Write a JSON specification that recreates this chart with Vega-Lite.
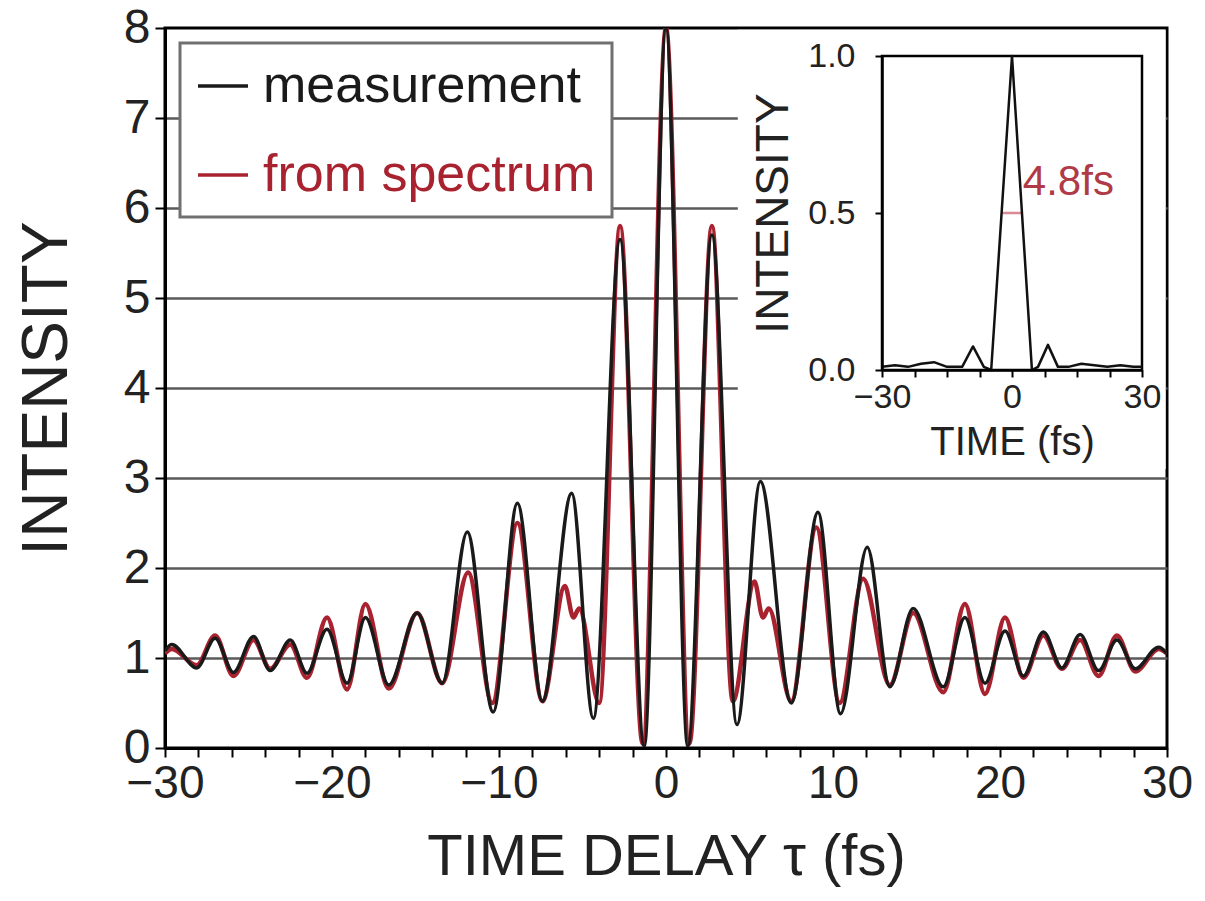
{
  "$schema": "https://vega.github.io/schema/vega-lite/v6.json",
  "width": 1002,
  "height": 720,
  "autosize": {"type": "none"},
  "padding": {"left": 165, "top": 28, "right": 38, "bottom": 153},
  "background": "white",
  "config": {
    "view": {"stroke": "black", "strokeWidth": 3},
    "font": "Liberation Sans",
    "axis": {"domainColor": "black", "tickColor": "black", "labelColor": "#222", "titleColor": "#222", "titleFontWeight": "normal", "labelFont": "Liberation Sans", "titleFont": "Liberation Sans", "labelOverlap": false, "labelFlush": false},
    "legend": {"labelFont": "Liberation Sans"}
  },
  "datasets": {
    "box": [{"x0": 4.3, "x1": 29.92, "y0": 3.1, "y1": 7.98}],
    "main": [
      {"t": -30, "v": 1.08, "series": "measurement"},
      {"t": -29.6, "v": 1.15, "series": "measurement"},
      {"t": -28.1, "v": 0.89, "series": "measurement"},
      {"t": -27.0, "v": 1.22, "series": "measurement"},
      {"t": -25.9, "v": 0.84, "series": "measurement"},
      {"t": -24.7, "v": 1.24, "series": "measurement"},
      {"t": -23.7, "v": 0.86, "series": "measurement"},
      {"t": -22.5, "v": 1.2, "series": "measurement"},
      {"t": -21.5, "v": 0.83, "series": "measurement"},
      {"t": -20.3, "v": 1.32, "series": "measurement"},
      {"t": -19.1, "v": 0.72, "series": "measurement"},
      {"t": -18.0, "v": 1.45, "series": "measurement"},
      {"t": -16.6, "v": 0.7, "series": "measurement"},
      {"t": -14.9, "v": 1.5, "series": "measurement"},
      {"t": -13.4, "v": 0.72, "series": "measurement"},
      {"t": -11.9, "v": 2.4, "series": "measurement"},
      {"t": -10.35, "v": 0.4, "series": "measurement"},
      {"t": -8.9, "v": 2.72, "series": "measurement"},
      {"t": -7.4, "v": 0.52, "series": "measurement"},
      {"t": -5.65, "v": 2.83, "series": "measurement"},
      {"t": -4.35, "v": 0.33, "series": "measurement"},
      {"t": -2.75, "v": 5.65, "series": "measurement"},
      {"t": -1.3, "v": 0.02, "series": "measurement"},
      {"t": 0, "v": 8.0, "series": "measurement"},
      {"t": 1.3, "v": 0.02, "series": "measurement"},
      {"t": 2.75, "v": 5.7, "series": "measurement"},
      {"t": 4.25, "v": 0.26, "series": "measurement"},
      {"t": 5.65, "v": 2.96, "series": "measurement"},
      {"t": 7.5, "v": 0.5, "series": "measurement"},
      {"t": 9.1, "v": 2.62, "series": "measurement"},
      {"t": 10.45, "v": 0.38, "series": "measurement"},
      {"t": 12.05, "v": 2.23, "series": "measurement"},
      {"t": 13.4, "v": 0.68, "series": "measurement"},
      {"t": 14.8, "v": 1.55, "series": "measurement"},
      {"t": 16.6, "v": 0.68, "series": "measurement"},
      {"t": 17.9, "v": 1.45, "series": "measurement"},
      {"t": 19.1, "v": 0.72, "series": "measurement"},
      {"t": 20.3, "v": 1.3, "series": "measurement"},
      {"t": 21.4, "v": 0.8, "series": "measurement"},
      {"t": 22.6, "v": 1.29, "series": "measurement"},
      {"t": 23.7, "v": 0.89, "series": "measurement"},
      {"t": 24.8, "v": 1.26, "series": "measurement"},
      {"t": 25.9, "v": 0.86, "series": "measurement"},
      {"t": 27.0, "v": 1.2, "series": "measurement"},
      {"t": 28.1, "v": 0.88, "series": "measurement"},
      {"t": 29.5, "v": 1.12, "series": "measurement"},
      {"t": 30, "v": 1.05, "series": "measurement"},
      {"t": -30, "v": 1.05, "series": "from spectrum"},
      {"t": -29.6, "v": 1.1, "series": "from spectrum"},
      {"t": -28.1, "v": 0.92, "series": "from spectrum"},
      {"t": -27.0, "v": 1.25, "series": "from spectrum"},
      {"t": -25.9, "v": 0.8, "series": "from spectrum"},
      {"t": -24.7, "v": 1.2, "series": "from spectrum"},
      {"t": -23.7, "v": 0.88, "series": "from spectrum"},
      {"t": -22.5, "v": 1.15, "series": "from spectrum"},
      {"t": -21.5, "v": 0.78, "series": "from spectrum"},
      {"t": -20.3, "v": 1.45, "series": "from spectrum"},
      {"t": -19.1, "v": 0.65, "series": "from spectrum"},
      {"t": -18.0, "v": 1.6, "series": "from spectrum"},
      {"t": -16.6, "v": 0.66, "series": "from spectrum"},
      {"t": -14.9, "v": 1.5, "series": "from spectrum"},
      {"t": -13.4, "v": 0.72, "series": "from spectrum"},
      {"t": -11.85, "v": 1.95, "series": "from spectrum"},
      {"t": -10.4, "v": 0.5, "series": "from spectrum"},
      {"t": -8.9, "v": 2.5, "series": "from spectrum"},
      {"t": -7.4, "v": 0.52, "series": "from spectrum"},
      {"t": -6.05, "v": 1.8, "series": "from spectrum"},
      {"t": -5.55, "v": 1.45, "series": "from spectrum"},
      {"t": -5.2, "v": 1.55, "series": "from spectrum"},
      {"t": -4.0, "v": 0.5, "series": "from spectrum"},
      {"t": -2.75, "v": 5.8, "series": "from spectrum"},
      {"t": -1.4, "v": 0.05, "series": "from spectrum"},
      {"t": 0, "v": 8.0, "series": "from spectrum"},
      {"t": 1.4, "v": 0.05, "series": "from spectrum"},
      {"t": 2.75, "v": 5.8, "series": "from spectrum"},
      {"t": 4.0, "v": 0.52, "series": "from spectrum"},
      {"t": 5.3, "v": 1.85, "series": "from spectrum"},
      {"t": 5.8, "v": 1.45, "series": "from spectrum"},
      {"t": 6.15, "v": 1.55, "series": "from spectrum"},
      {"t": 7.5, "v": 0.52, "series": "from spectrum"},
      {"t": 9.0, "v": 2.45, "series": "from spectrum"},
      {"t": 10.4, "v": 0.5, "series": "from spectrum"},
      {"t": 11.8, "v": 1.88, "series": "from spectrum"},
      {"t": 13.4, "v": 0.7, "series": "from spectrum"},
      {"t": 14.8, "v": 1.5, "series": "from spectrum"},
      {"t": 16.6, "v": 0.62, "series": "from spectrum"},
      {"t": 17.9, "v": 1.6, "series": "from spectrum"},
      {"t": 19.1, "v": 0.6, "series": "from spectrum"},
      {"t": 20.3, "v": 1.45, "series": "from spectrum"},
      {"t": 21.4, "v": 0.78, "series": "from spectrum"},
      {"t": 22.6, "v": 1.25, "series": "from spectrum"},
      {"t": 23.7, "v": 0.88, "series": "from spectrum"},
      {"t": 24.8, "v": 1.2, "series": "from spectrum"},
      {"t": 25.9, "v": 0.8, "series": "from spectrum"},
      {"t": 27.0, "v": 1.25, "series": "from spectrum"},
      {"t": 28.1, "v": 0.85, "series": "from spectrum"},
      {"t": 29.5, "v": 1.1, "series": "from spectrum"},
      {"t": 30, "v": 1.05, "series": "from spectrum"}
    ],
    "frame": [{"a": -30, "b": 30, "c": 0, "d": 1}],
    "inset": [
      {"t": -30, "v": 0.01}, {"t": -27, "v": 0.015}, {"t": -24, "v": 0.01}, {"t": -21, "v": 0.02},
      {"t": -18, "v": 0.025}, {"t": -15, "v": 0.01}, {"t": -11.5, "v": 0.01}, {"t": -9, "v": 0.075},
      {"t": -6.5, "v": 0.01}, {"t": -4.8, "v": 0.0}, {"t": 0, "v": 1.0}, {"t": 4.6, "v": 0.0},
      {"t": 6, "v": 0.01}, {"t": 8.3, "v": 0.08}, {"t": 10.6, "v": 0.01}, {"t": 13, "v": 0.01},
      {"t": 16, "v": 0.02}, {"t": 19, "v": 0.015}, {"t": 22, "v": 0.01}, {"t": 25, "v": 0.015},
      {"t": 28, "v": 0.01}, {"t": 30, "v": 0.01}
    ],
    "fwhm": [{"t1": -2.4, "t2": 2.4, "v": 0.5}],
    "note": [{"t": 2.5, "v": 0.6, "label": "4.8fs"}]
  },
  "layer": [
    {
      "layer": [
        {
          "data": {"name": "box"},
          "mark": {"type": "rect", "fill": "white", "stroke": null},
          "encoding": {
            "x": {"field": "x0", "type": "quantitative",
              "scale": {"domain": [-30, 30], "nice": false},
              "axis": {"title": "TIME DELAY τ (fs)", "format": "d", "values": [-30, -20, -10, 0, 10, 20, 30],
                "labelFontSize": 46, "titleFontSize": 58,
                "tickSize": 9, "tickWidth": 2, "domainWidth": 3, "labelPadding": 4, "titlePadding": 22,
                "grid": false, "labelOverlap": false, "labelFlush": false, "zindex": 1}},
            "x2": {"field": "x1"},
            "y": {"field": "y0", "type": "quantitative",
              "scale": {"domain": [0, 8], "nice": false},
              "axis": {"title": "INTENSITY", "format": "d", "values": [0,1,2,3,4,5,6,7,8], "grid": true,
                "gridColor": {"condition": {"test": "datum.value === 0 || datum.value === 8", "value": "transparent"}, "value": "#5a5a5a"},
                "gridWidth": 2.5, "labelFontSize": 48, "titleFontSize": 64, "tickSize": 10, "tickWidth": 2,
                "domainWidth": 3, "labelPadding": 5, "titlePadding": 44, "labelOverlap": false}},
            "y2": {"field": "y1"}
          }
        },
        {
          "data": {"name": "main"},
          "transform": [{"filter": "datum.series === 'from spectrum'"}],
          "mark": {"type": "line", "interpolate": "monotone", "strokeWidth": 4.5, "strokeJoin": "round", "clip": true},
          "encoding": {
            "x": {"field": "t", "type": "quantitative", "title": "TIME DELAY τ (fs)"},
            "y": {"field": "v", "type": "quantitative", "title": "INTENSITY"},
            "color": {"field": "series", "type": "nominal",
              "scale": {"domain": ["measurement", "from spectrum"], "range": ["#1a1a1a", "#a8232f"]},
              "legend": {"title": null, "orient": "none", "legendX": 15, "legendY": 15, "symbolType": "stroke", "symbolSize": 2500,
                "symbolStrokeWidth": 3.5, "labelFontSize": 52, "labelOffset": 13, "rowPadding": 36, "padding": 16,
                "strokeColor": "#707070", "fillColor": "white", "labelLimit": 0, "cornerRadius": 0,
                "encode": {"legend": {"update": {"strokeWidth": {"value": 3}}},
                  "labels": {"update": {"fill": {"signal": "datum.label === 'from spectrum' ? '#a8232f' : '#1a1a1a'"}}}}}
            }
          }
        },
        {
          "data": {"name": "main"},
          "transform": [{"filter": "datum.series === 'measurement'"}],
          "mark": {"type": "line", "interpolate": "monotone", "strokeWidth": 3.5, "strokeJoin": "round", "clip": true},
          "encoding": {
            "x": {"field": "t", "type": "quantitative", "title": "TIME DELAY τ (fs)"},
            "y": {"field": "v", "type": "quantitative", "title": "INTENSITY"},
            "color": {"field": "series", "type": "nominal"}
          }
        }
      ]
    },
    {
      "layer": [
        {
          "data": {"name": "box"},
          "mark": {"type": "point", "opacity": 0},
          "encoding": {
            "x": {"field": "x0", "type": "quantitative",
              "scale": {"domain": [-30, 30], "nice": false},
              "axis": {"orient": "bottom", "title": null, "values": [-28,-26,-24,-22,-18,-16,-14,-12,-8,-6,-4,-2,2,4,6,8,12,14,16,18,22,24,26,28],
                "labels": false, "domain": false, "tickSize": 9, "tickWidth": 2, "grid": false, "zindex": 1}}
          }
        }
      ]
    },
    {
      "layer": [
        {
          "data": {"name": "frame"},
          "mark": {"type": "rect", "fill": null, "stroke": "black", "strokeWidth": 2.5},
          "encoding": {
            "x": {"field": "a", "type": "quantitative",
              "scale": {"domain": [-30, 30], "range": [717, 977], "nice": false},
              "axis": {"orient": "bottom", "offset": -378, "title": "TIME (fs)",
                "values": [-30, -22.5, -15, -7.5, 0, 7.5, 15, 22.5, 30],
                "labelExpr": "datum.value === -30 || datum.value === 0 || datum.value === 30 ? datum.label : ''",
                "labelFontSize": 34, "titleFontSize": 40, "tickSize": 7, "tickWidth": 2, "domainWidth": 2.5,
                "grid": false, "labelOverlap": false, "labelFlush": false, "labelPadding": 3, "titlePadding": 8, "zindex": 2}},
            "x2": {"field": "b"},
            "y": {"field": "c", "type": "quantitative",
              "scale": {"domain": [0, 1], "range": [342, 28], "nice": false, "zero": false},
              "axis": {"orient": "left", "offset": -717, "title": "INTENSITY", "values": [0, 0.5, 1], "format": ".1f",
                "labelFontSize": 34, "titleFontSize": 46, "tickSize": 7, "tickWidth": 2, "domainWidth": 2.5,
                "grid": false, "labelPadding": 20, "titlePadding": 10, "labelOverlap": false, "zindex": 2}},
            "y2": {"field": "d"}
          }
        },
        {
          "data": {"name": "fwhm"},
          "mark": {"type": "rule", "color": "#d98a95", "strokeWidth": 2.5},
          "encoding": {
            "x": {"field": "t1", "type": "quantitative", "title": "TIME (fs)"},
            "x2": {"field": "t2"},
            "y": {"field": "v", "type": "quantitative", "title": "INTENSITY"}
          }
        },
        {
          "data": {"name": "inset"},
          "mark": {"type": "line", "color": "#111", "strokeWidth": 2.5, "strokeJoin": "round"},
          "encoding": {
            "x": {"field": "t", "type": "quantitative", "title": "TIME (fs)"},
            "y": {"field": "v", "type": "quantitative", "title": "INTENSITY"}
          }
        },
        {
          "data": {"name": "note"},
          "mark": {"type": "text", "color": "#b03a46", "fontSize": 42, "align": "left", "baseline": "middle"},
          "encoding": {
            "x": {"field": "t", "type": "quantitative", "title": "TIME (fs)"},
            "y": {"field": "v", "type": "quantitative", "title": "INTENSITY"},
            "text": {"field": "label"}
          }
        }
      ]
    }
  ],
  "resolve": {"scale": {"x": "independent", "y": "independent"}, "axis": {"x": "independent", "y": "independent"}}
}
